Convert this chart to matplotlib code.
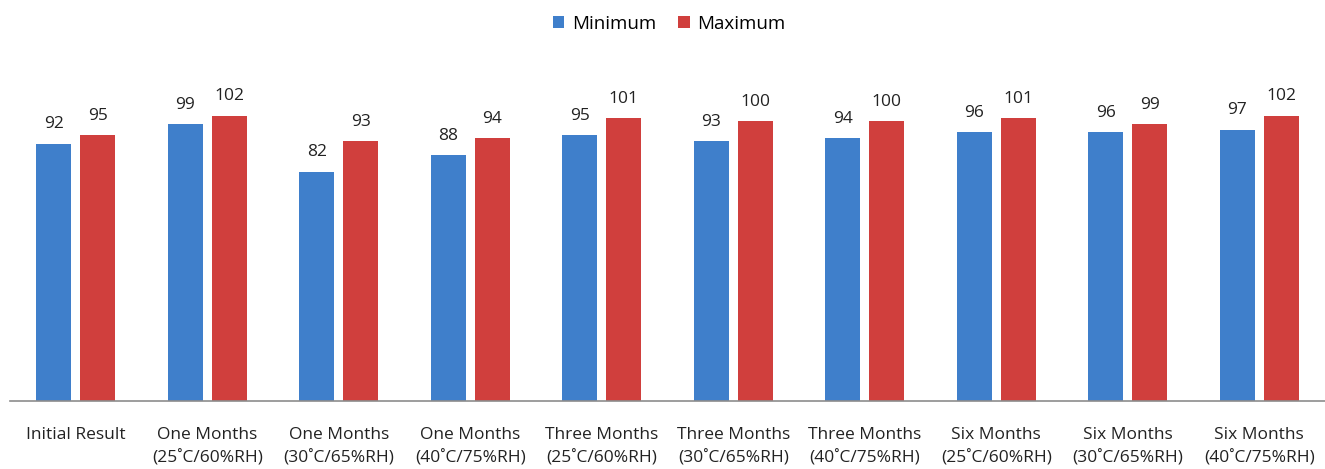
import numpy as np
import matplotlib.pyplot as plt

plt.rcParams['font.family'] = ['Open Sans', 'DejaVu Sans']

# stability results per storage condition
categories = ['Initial Result',
              'One Months\n(25˚C/60%RH)', 'One Months\n(30˚C/65%RH)', 'One Months\n(40˚C/75%RH)',
              'Three Months\n(25˚C/60%RH)', 'Three Months\n(30˚C/65%RH)', 'Three Months\n(40˚C/75%RH)',
              'Six Months\n(25˚C/60%RH)', 'Six Months\n(30˚C/65%RH)', 'Six Months\n(40˚C/75%RH)']
minimum = [92, 99, 82, 88, 95, 93, 94, 96, 96, 97]
maximum = [95, 102, 93, 94, 101, 100, 100, 101, 99, 102]

blue = '#3F7FCB'
red = '#D03F3D'

fig = plt.figure(figsize=(13.25, 4.69), dpi=100)
ax = fig.add_axes([0.0075, 0.145, 0.9925, 0.716])

x = np.arange(len(categories))
w = 0.267
off = 0.167
b1 = ax.bar(x - off, minimum, w, color=blue, label='Minimum')
b2 = ax.bar(x + off, maximum, w, color=red, label='Maximum')

for bars, vals in ((b1, minimum), (b2, maximum)):
    for b, v in zip(bars, vals):
        ax.annotate(str(v), (b.get_x() + b.get_width() / 2, v), xytext=(0, 8),
                    textcoords='offset points', ha='center', va='bottom',
                    fontsize=12.5, color='#222222')

ax.set_xlim(-0.5, len(categories) - 0.5)
ax.set_ylim(0, 120)
ax.set_xticks(x)
ax.set_xticklabels(categories, fontsize=12.5, color='#222222', linespacing=1.5)
ax.tick_params(axis='x', length=0, pad=19)
ax.set_yticks([])
for s in ['left', 'right', 'top']:
    ax.spines[s].set_visible(False)
ax.spines['bottom'].set_color('#8C8C8C')
ax.spines['bottom'].set_linewidth(1.2)

fig.legend(loc='upper center', bbox_to_anchor=(0.505, 1.005), ncol=2, frameon=False,
           fontsize=13.5, handlelength=0.6, handleheight=0.6, handletextpad=0.4,
           columnspacing=1.2)

fig.savefig('out.png', dpi=100)
